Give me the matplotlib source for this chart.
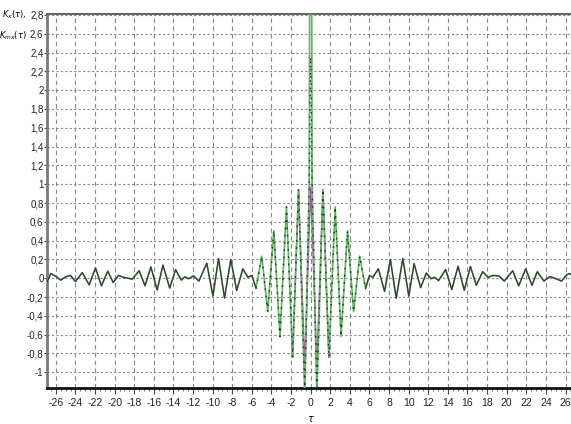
import matplotlib
matplotlib.use("Agg")
import matplotlib.pyplot as plt
from matplotlib import font_manager
from matplotlib.ticker import MultipleLocator, FuncFormatter

# ---------------- data ----------------
tau = [-26.9, -26.5, -26.0, -25.5, -25.0, -24.5, -24.0, -23.3, -22.6, -21.95,
       -21.35, -20.7, -20.15, -19.6, -19.1, -18.6, -18.2, -17.5, -16.9, -16.3,
       -15.66, -15.07, -14.38, -13.78, -13.2, -12.85, -12.45, -11.95, -11.4, -10.6,
       -9.97, -9.4, -8.79, -8.15, -7.55, -6.92, -6.4, -6.0, -5.57, -4.99,
       -4.38, -3.76, -3.13, -2.47, -1.84, -1.24, -0.6, -0.15, 0.0, 0.15,
       0.63, 1.25, 1.86, 2.5, 3.1, 3.76, 4.38, 5.0, 5.6, 6.0,
       6.35, 6.9, 7.54, 8.13, 8.73, 9.4, 10.01, 10.55, 11.22, 11.8,
       12.3, 12.65, 13.05, 13.77, 14.4, 15.04, 15.67, 16.3, 16.9, 17.55,
       18.1, 18.6, 19.2, 19.75, 20.62, 21.22, 21.94, 22.58, 23.12, 23.8,
       24.4, 24.9, 25.6, 26.1, 26.4, 26.85]

k_x = [-0.04, 0.05, 0.02, -0.02, 0.015, 0.03, -0.035, 0.06, -0.07, 0.11,
       -0.08, 0.075, -0.045, 0.03, 0.01, 0.0, -0.01, 0.08, -0.08, 0.12,
       -0.125, 0.14, -0.105, 0.092, -0.02, 0.015, -0.005, 0.025, -0.03, 0.16,
       -0.19, 0.21, -0.21, 0.20, -0.13, 0.10, 0.01, 0.03, -0.106, 0.235,
       -0.355, 0.505, -0.62, 0.76, -0.84, 0.945, -1.25, 1.0, 8.0, 1.0,
       -1.25, 0.945, -0.84, 0.76, -0.62, 0.505, -0.355, 0.235, -0.11, 0.03,
       0.01, 0.10, -0.14, 0.20, -0.213, 0.21, -0.19, 0.155, -0.10, 0.055,
       -0.005, 0.01, -0.025, 0.092, -0.12, 0.128, -0.128, 0.125, -0.075, 0.07,
       0.01, 0.03, 0.025, -0.03, 0.08, -0.08, 0.10, -0.075, 0.07, -0.03,
       0.018, 0.0, -0.03, 0.035, 0.05, 0.02]

# second estimate: same as k_x except around the centre
k_mx_centre_tau = [-0.6, -0.15, 0.0, 0.15, 0.63]
k_mx_centre_val = [-1.2, 1.0, 2.35, 1.0, -1.2]

# third (magenta) curve, visible only near the centre
k_m_tau = [-1.84, -1.24, -0.6, 0.0, 0.63, 1.25, 1.86]
k_m_val = [-0.84, 0.93, -0.92, 0.97, -0.92, 0.93, -0.84]

x_ticks = list(range(-26, 27, 2))
y_ticks = [-1.0, -0.8, -0.6, -0.4, -0.2, 0.0, 0.2, 0.4, 0.6, 0.8, 1.0, 1.2,
           1.4, 1.6, 1.8, 2.0, 2.2, 2.4, 2.6, 2.8]

k_mx = list(k_x)
for t, v in zip(k_mx_centre_tau, k_mx_centre_val):
    k_mx[tau.index(t)] = v

# ---------------- fonts ----------------
names = {f.name for f in font_manager.fontManager.ttflist}
if "Liberation Sans Narrow" in names:
    x_font = dict(family="Liberation Sans Narrow", size=8)
    y_font = dict(family="Liberation Sans Narrow", size=8)
else:
    x_font = dict(family="Liberation Sans", size=7.5)
    y_font = dict(family="Liberation Sans", size=7)

# ---------------- figure ----------------
W, H = 571, 424
fig = plt.figure(figsize=(W / 100, H / 100), dpi=100)
ax = fig.add_axes([47 / W, 1 - 388 / H, 1 - 47 / W, (388 - 14) / H])

ax.plot(k_m_tau, k_m_val, color="#c040c0", lw=1.0, zorder=2,
        solid_joinstyle="round")
ax.plot(tau, k_x, color="#5cb85c", lw=1.2, zorder=3, solid_joinstyle="round")

# dark estimate: solid in the tails, dotted in the centre (as in the source)
split_l = tau.index(-5.57)
split_r = tau.index(5.6)
ax.plot(tau[:split_l + 1], k_mx[:split_l + 1], color="#3a3a3a", lw=0.9,
        zorder=4, solid_joinstyle="round")
ax.plot(tau[split_r:], k_mx[split_r:], color="#3a3a3a", lw=0.9,
        zorder=4, solid_joinstyle="round")
ax.plot(tau[split_l:split_r + 1], k_mx[split_l:split_r + 1], color="#2e2e2e",
        lw=1.0, ls=(0, (1.2, 4.0)), zorder=4)

ax.set_xlim(-26.9, 26.56)
ax.set_ylim(-1.167, 2.81)

ax.set_xticks(x_ticks)
ax.set_yticks(y_ticks)
ax.xaxis.set_minor_locator(MultipleLocator(0.5))

def fmt(v, pos):
    s = f"{v:.1f}".rstrip("0").rstrip(".")
    if s in ("-0", ""):
        s = "0"
    return s.replace(".", ",")

ax.yaxis.set_major_formatter(FuncFormatter(fmt))
ax.xaxis.set_major_formatter(FuncFormatter(lambda v, p: f"{int(round(v))}"))

for lab in ax.get_xticklabels():
    lab.set_fontproperties(font_manager.FontProperties(**x_font))
    lab.set_color("#222222")
for lab in ax.get_yticklabels():
    lab.set_fontproperties(font_manager.FontProperties(**y_font))
    lab.set_color("#222222")

ax.tick_params(axis="x", which="major", direction="out", length=4, width=0.8,
               color="#444444", pad=3)
ax.tick_params(axis="x", which="minor", direction="out", length=2, width=0.6,
               color="#666666")
ax.tick_params(axis="y", which="major", direction="out", length=2, width=0.8,
               color="#444444", pad=0.5)

# grid
for xt in x_ticks:
    ax.axvline(xt, color="#8a8a8a", lw=0.8, ls=(0, (4, 3)), zorder=1)
for yt in y_ticks:
    ax.axhline(yt, color="#8a8a8a", lw=0.8, ls=(0, (2, 2)), zorder=1)

ax.spines["right"].set_visible(False)
ax.spines["left"].set_color("#7a7a7a")
ax.spines["left"].set_linewidth(2.0)
ax.spines["bottom"].set_color("#111111")
ax.spines["bottom"].set_linewidth(2.0)
ax.spines["top"].set_color("#666666")
ax.spines["top"].set_linewidth(1.5)

# axis captions
fig.text(311 / W, 1 - 419 / H, r"$\tau$", ha="center", va="center",
         fontsize=7, family="DejaVu Serif")
fig.text(27 / W, 1 - 15 / H, r"$K_{x}(\tau),$", ha="right", va="center",
         fontsize=6, family="DejaVu Serif")
fig.text(27 / W, 1 - 36 / H, r"$K_{mx}(\tau)$", ha="right", va="center",
         fontsize=6, family="DejaVu Serif")

fig.savefig("out.png", dpi=100)
